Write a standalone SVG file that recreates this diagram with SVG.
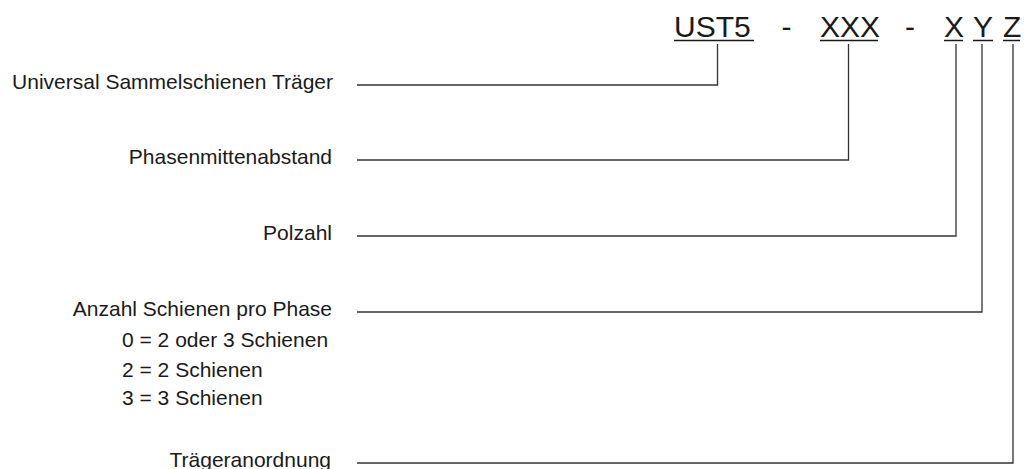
<svg xmlns="http://www.w3.org/2000/svg" width="1024" height="469" viewBox="0 0 1024 469">
<style>
.lbl{font-family:"Liberation Sans",Arial,Helvetica,sans-serif;font-size:21px;fill:#1a1a1a}
.end{text-anchor:end}
.code{font-family:"Liberation Sans",Arial,Helvetica,sans-serif;font-size:30px;fill:#1a1a1a}
.ul{stroke:#1a1a1a;stroke-width:1.5;fill:none}
.conn{stroke:#333;stroke-width:1.3;fill:none}
</style>
<rect width="1024" height="469" fill="#fff"/>
<g id="code">
<text class="code" x="674" y="36.5">UST5</text>
<text class="code" x="781.5" y="36.5">-</text>
<text class="code" x="820" y="36.5">XXX</text>
<text class="code" x="905" y="36.5">-</text>
<text class="code" x="944" y="36.5">X</text>
<text class="code" x="973" y="36.5">Y</text>
<text class="code" x="1003" y="36.5">Z</text>
<line class="ul" x1="674" y1="40.5" x2="754" y2="40.5"/>
<line class="ul" x1="820" y1="40.5" x2="878" y2="40.5"/>
<line class="ul" x1="944" y1="40.5" x2="963" y2="40.5"/>
<line class="ul" x1="973" y1="40.5" x2="993" y2="40.5"/>
<line class="ul" x1="1003" y1="40.5" x2="1020" y2="40.5"/>
</g>
<g id="n-ust">
<text class="lbl end" x="333" y="88.5">Universal Sammelschienen Träger</text>
</g>
<g id="n-phasen">
<text class="lbl end" x="332" y="163.5">Phasenmittenabstand</text>
</g>
<g id="n-pol">
<text class="lbl end" x="332" y="239.5">Polzahl</text>
</g>
<g id="n-anzahl">
<text class="lbl end" x="332" y="315.5">Anzahl Schienen pro Phase</text>
<text class="lbl" x="122" y="347">0 = 2 oder 3 Schienen</text>
<text class="lbl" x="122" y="376.5">2 = 2 Schienen</text>
<text class="lbl" x="122" y="405">3 = 3 Schienen</text>
</g>
<g id="n-traeger">
<text class="lbl end" x="331" y="466.5">Trägeranordnung</text>
</g>
<g id="connectors">
<polyline class="conn" points="357,85 717.5,85 717.5,44"/>
<polyline class="conn" points="357,160 848.5,160 848.5,44"/>
<polyline class="conn" points="357,236 956,236 956,44"/>
<polyline class="conn" points="357,312 982,312 982,44"/>
<polyline class="conn" points="357,463 1013,463 1013,44"/>
</g>
</svg>
